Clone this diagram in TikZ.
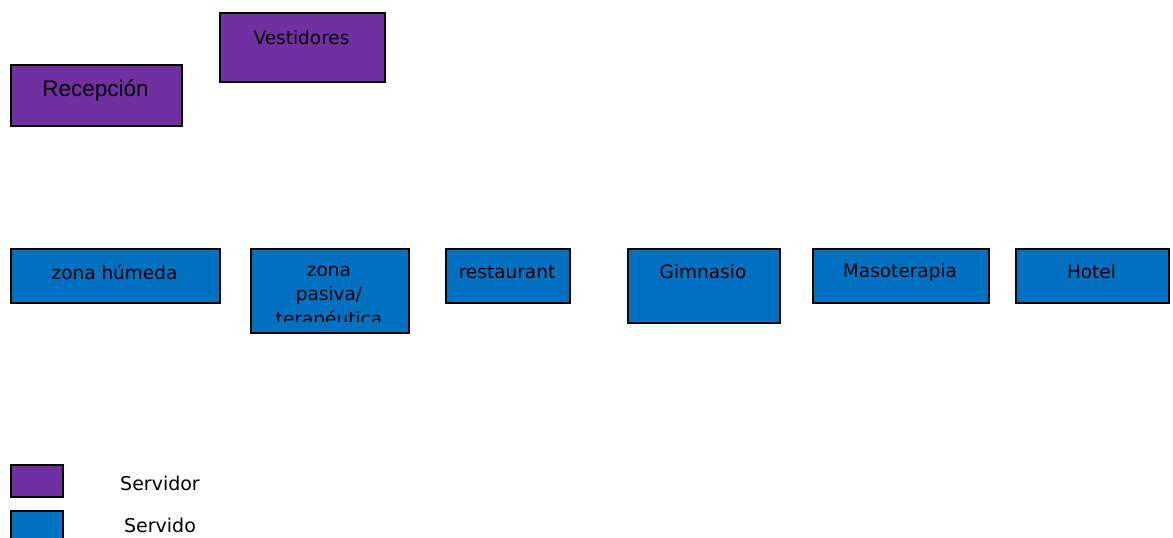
\documentclass[tikz,border=0pt]{standalone}
\usepackage{fontspec}
\setmainfont{DejaVu Sans}
\newfontfamily\arialf{Liberation Sans}
\definecolor{srvpurple}{HTML}{7030A0}
\definecolor{srvblue}{HTML}{0070C0}
\begin{document}
\begin{tikzpicture}[x=1pt,y=-1pt,
  boxbase/.style={draw=black, line width=1.8pt, inner sep=0pt, anchor=north west},
  purplebox/.style={boxbase, fill=srvpurple},
  bluebox/.style={boxbase, fill=srvblue},
  lbl/.style={font=\fontsize{18.5}{22}\selectfont, text=black, inner sep=0pt, anchor=center},
  leg/.style={font=\fontsize{19}{22}\selectfont, text=black, inner sep=0pt, anchor=center}]
\useasboundingbox (0,0) rectangle (1173,538);
\clip (0,0) rectangle (1173,538);
% servidor boxes
\node[purplebox, minimum width=171, minimum height=61] (rec) at (10,64) {};
\node[lbl, font=\arialf\fontsize{22.5}{26}\selectfont] (rect) at (95.5,91) {Recepción};
\node[purplebox, minimum width=165, minimum height=69] (ves) at (219,12) {};
\node[lbl] (vest) at (301.5,38) {Vestidores};
% servido boxes
\node[bluebox, minimum width=209, minimum height=54] (hum) at (10,248) {};
\node[lbl] (humt) at (114.5,272) {zona húmeda};
\node[bluebox, minimum width=158, minimum height=84] (pas) at (250,248) {};
\begin{scope}
\clip (250,250) rectangle (408,321.5);
\node[lbl] (pas1) at (329,271) {zona};
\node[lbl] (pas2) at (329,295.5) {pasiva/};
\node[lbl] (pas3) at (329,320) {terapéutica};
\end{scope}
\node[bluebox, minimum width=124, minimum height=54] (res) at (445,248) {};
\node[lbl] (rest) at (507,272) {restaurant};
\node[bluebox, minimum width=152, minimum height=74] (gim) at (627,248) {};
\node[lbl] (gimt) at (703,272) {Gimnasio};
\node[bluebox, minimum width=176, minimum height=54] (mas) at (812,248) {};
\node[lbl] (mast) at (900,272) {Masoterapia};
\node[bluebox, minimum width=153, minimum height=54] (hot) at (1015,248) {};
\node[lbl] (hott) at (1091.5,272) {Hotel};
% legend
\node[purplebox, minimum width=52, minimum height=32] (legp) at (10,464) {};
\node[leg] (legpt) at (160,483) {Servidor};
\node[bluebox, minimum width=52, minimum height=40] (legb) at (10,510) {};
\node[leg] (legbt) at (160,525) {Servido};
\end{tikzpicture}
\end{document}
